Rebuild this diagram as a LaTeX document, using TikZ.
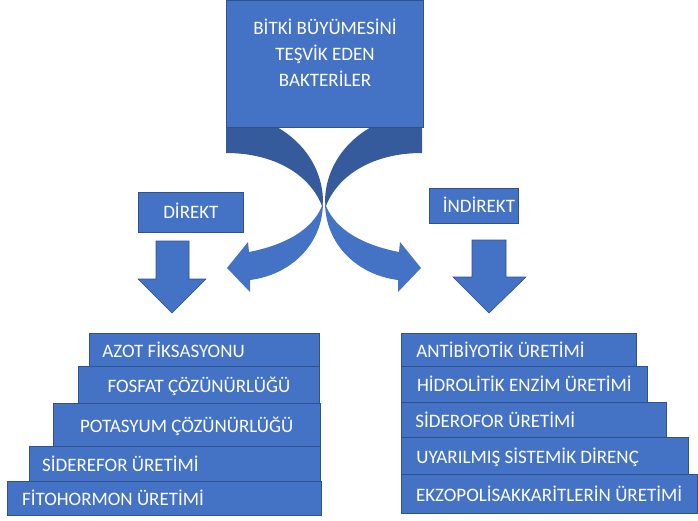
\documentclass[tikz,border=0pt]{standalone}
\usepackage{fontspec}
\setmainfont{Carlito}
\definecolor{blu}{HTML}{4472C4}
\definecolor{bord}{HTML}{2F528F}
\definecolor{backblu}{HTML}{365B9D}
\newcommand{\fs}{\fontsize{19}{26}\selectfont}
\newcommand{\bendarrow}{%
  \fill[backblu] (226,114) .. controls (279.6,114) and (323,153.4) .. (323,202)
     -- (322,206) .. controls (310,175) and (275,153) .. (226,153) -- cycle;
  \fill[blu] (323,202) .. controls (323,245) and (290,275) .. (250,280)
     -- (250,292) -- (227,268) -- (248,242) -- (249,252)
     .. controls (285,245) and (312,230) .. (322,206) -- cycle;
}
\newcommand{\stackbox}[8]{%
  \pgfmathsetmacro{\bw}{#4-#2}%
  \pgfmathsetmacro{\bh}{#5-#3}%
  \pgfmathsetmacro{\tw}{#4-#2-2*#6}%
  \node[stk, minimum width=\bw pt, minimum height=\bh pt,
        inner xsep=#6pt] (#1) at (#2,#3) {\makebox[\tw pt][#7]{#8}};}
\begin{document}
\begin{tikzpicture}[x=1pt,y=-1pt,
  box/.style={draw=bord, line width=0.8pt, fill=blu, text=white, font=\fs,
              inner sep=0pt, text height=16pt, text depth=4pt},
  stk/.style={box, anchor=north west, text height=17pt, text depth=2pt},
  barrow/.style={draw=bord, line width=0.6pt, fill=blu, line join=miter}]
\useasboundingbox (0,0) rectangle (698,520);

% curved arrows
\bendarrow
\begin{scope}[xshift=648pt, xscale=-1]
  \bendarrow
\end{scope}

% top box
\node[box, anchor=north west, minimum width=197pt, minimum height=127pt] (top) at (226,0) {};
\node[text=white, font=\fs, align=center, inner sep=0pt] (title) at (325,53)
  {BİTKİ BÜYÜMESİNİ\\TEŞVİK EDEN\\BAKTERİLER};

% category boxes
\node[box, anchor=north west, minimum width=105pt, minimum height=40pt] (dir) at (138,192) {DİREKT};
\node[box, anchor=north west, minimum width=89pt, minimum height=35pt, text height=17pt, text depth=3pt] (ind) at (429,188) {\hspace*{10pt}İNDİREKT};

% down block arrows
\draw[barrow] (156,241) -- (189,241) -- (189,279) -- (206,279) -- (172,313)
  -- (138,279) -- (156,279) -- cycle;
\draw[barrow] (472,240) -- (506,240) -- (506,277) -- (526,277) -- (489,313)
  -- (453,277) -- (472,277) -- cycle;

% left stack
\stackbox{a1}{89.3}{332.7}{319.3}{365.7}{12.7}{l}{AZOT FİKSASYONU}
\stackbox{a2}{77.7}{365.7}{319.3}{403.3}{0}{c}{FOSFAT ÇÖZÜNÜRLÜĞÜ}
\stackbox{a3}{52.7}{403.3}{320}{446}{0}{c}{POTASYUM ÇÖZÜNÜRLÜĞÜ}
\stackbox{a4}{29.3}{446}{320}{480.7}{12.4}{l}{SİDEREFOR ÜRETİMİ}
\stackbox{a5}{7.3}{480.7}{320.7}{515}{14.4}{l}{FİTOHORMON ÜRETİMİ}

% right stack
\stackbox{b1}{400.7}{332.7}{636}{365.7}{15.3}{l}{ANTİBİYOTİK ÜRETİMİ}
\stackbox{b2}{400.7}{365.7}{647.3}{401.7}{16}{l}{HİDROLİTİK ENZİM ÜRETİMİ}
\stackbox{b3}{400.7}{401.7}{666}{436.7}{14.3}{l}{SİDEROFOR ÜRETİMİ}
\stackbox{b4}{400.7}{436.7}{687.7}{474}{15.3}{l}{UYARILMIŞ SİSTEMİK DİRENÇ}
\stackbox{b5}{400.7}{474}{696.7}{513.3}{0}{c}{EKZOPOLİSAKKARİTLERİN ÜRETİMİ}
\end{tikzpicture}
\end{document}
